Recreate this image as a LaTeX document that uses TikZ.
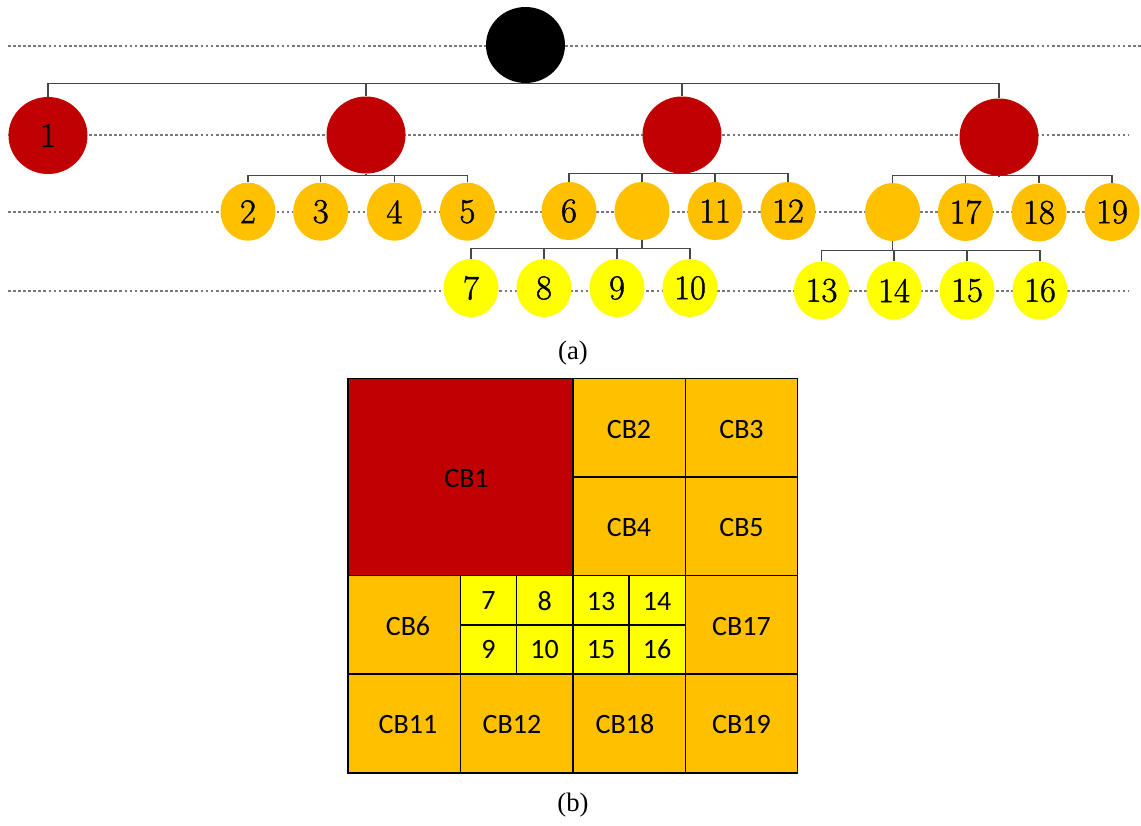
\documentclass[tikz,border=0pt]{standalone}
\usepackage{fontspec}
\newfontfamily\cbfont{Carlito}
\newfontfamily\capfont{Liberation Serif}
\newfontfamily\numfont[FakeBold=1.2]{Latin Modern Roman}
\usetikzlibrary{shapes.geometric,backgrounds}
\definecolor{cbred}{RGB}{192,0,0}
\definecolor{cborange}{RGB}{255,192,0}
\definecolor{cbyellow}{RGB}{255,255,0}
\definecolor{dashgray}{RGB}{120,120,120}
\definecolor{conngray}{RGB}{70,70,70}
\begin{document}
\begin{tikzpicture}[x=0.75pt,y=-0.75pt,
  tn/.style={ellipse, inner sep=0pt, draw=none, font=\numfont\fontsize{26}{30}\selectfont},
  rootnode/.style={tn, fill=black, minimum width=59.25pt, minimum height=57pt},
  rednode/.style={tn, fill=cbred, minimum width=59.25pt, minimum height=57.75pt},
  orangenode/.style={tn, fill=cborange, minimum width=41.25pt, minimum height=43.5pt},
  yellownode/.style={tn, fill=cbyellow, minimum width=41.25pt, minimum height=43.5pt},
  level/.style={draw=dashgray, line width=0.95pt, dash pattern=on 2.1pt off 1.7pt},
  conn/.style={draw=conngray, line width=0.85pt},
  cell/.style={draw=black, line width=1.2pt},
  cbtext/.style={font=\cbfont\fontsize{21}{25}\selectfont, inner sep=0pt},
  captext/.style={font=\capfont\fontsize{20}{24}\selectfont, inner sep=0pt}]
\useasboundingbox (0,0) rectangle (1141,825);

% ---- tree nodes ----
\node[rootnode] (root) at (525.5,45) {};
\node[rednode] (n1) at (48,135.5) {1};
\node[rednode] (rA) at (366,135) {};
\node[rednode] (rB) at (682,135) {};
\node[rednode] (rC) at (999,137) {};

\node[orangenode] (n2) at (248,211.7) {2};
\node[orangenode] (n3) at (320.7,211.7) {3};
\node[orangenode] (n4) at (394.4,211.7) {4};
\node[orangenode] (n5) at (467.4,211.7) {5};

\node[orangenode] (n6) at (569,211) {6};
\node[orangenode] (oB) at (642,211) {};
\node[orangenode] (n11) at (715,211) {11};
\node[orangenode] (n12) at (788,211) {12};

\node[orangenode] (oC) at (892.6,212) {};
\node[orangenode] (n17) at (965.5,212) {17};
\node[orangenode] (n18) at (1039,212.5) {18};
\node[orangenode] (n19) at (1112,212) {19};

\node[yellownode] (n7) at (471,288) {7};
\node[yellownode] (n8) at (544,288) {8};
\node[yellownode] (n9) at (617,288) {9};
\node[yellownode] (n10) at (690,288) {10};

\node[yellownode] (n13) at (821.5,290.5) {13};
\node[yellownode] (n14) at (894,290.5) {14};
\node[yellownode] (n15) at (967,290.5) {15};
\node[yellownode] (n16) at (1040,290.5) {16};

% bar levels
\coordinate (b0) at (525.5,83.3);
\coordinate (bA) at (366,175.3);
\coordinate (bB) at (682,173.3);
\coordinate (bC) at (999,175.5);
\coordinate (bD) at (642,248.3);
\coordinate (bE) at (892.6,250.7);

% dashed level line ends
\coordinate (l0a) at (8,46);   \coordinate (l0b) at (1141,46);
\coordinate (l1a) at (8,135);  \coordinate (l1b) at (1128,135);
\coordinate (l2a) at (8,212);  \coordinate (l2b) at (1137,212);
\coordinate (l3a) at (8,291);  \coordinate (l3b) at (1128,291);

\begin{scope}[on background layer]
  \draw[level] (l0a) -- (l0b);
  \draw[level] (l1a) -- (l1b);
  \draw[level] (l2a) -- (l2b);
  \draw[level] (l3a) -- (l3b);
  \foreach \c in {n1,rA,rB,rC}
    \draw[conn] (root) |- (\c.north |- b0) -- (\c.north);
  \foreach \c in {n2,n3,n4,n5}
    \draw[conn] (rA) |- (\c.north |- bA) -- (\c.north);
  \foreach \c in {n6,oB,n11,n12}
    \draw[conn] (rB) |- (\c.north |- bB) -- (\c.north);
  \foreach \c in {oC,n17,n18,n19}
    \draw[conn] (rC) |- (\c.north |- bC) -- (\c.north);
  \foreach \c in {n7,n8,n9,n10}
    \draw[conn] (oB) |- (\c.north |- bD) -- (\c.north);
  \foreach \c in {n13,n14,n15,n16}
    \draw[conn] (oC) |- (\c.north |- bE) -- (\c.north);
\end{scope}

\node[captext] (capa) at (573,353) {(a)};

% ---- grid (b) ----
\fill[cbred] (348,378.3) rectangle (572.7,575.3);
\fill[cborange] (572.7,378.3) rectangle (797.5,575.3);
\fill[cborange] (348,575.3) rectangle (460.3,673.7);
\fill[cborange] (685.3,575.3) rectangle (797.5,673.7);
\fill[cborange] (348,673.7) rectangle (797.5,772.7);
\fill[cbyellow] (460.3,575.3) rectangle (685.3,673.7);

\draw[cell] (348,378.3) rectangle (797.5,772.7);
\draw[cell] (572.7,378.3) -- (572.7,772.7);
\draw[cell] (685.3,378.3) -- (685.3,772.7);
\draw[cell] (460.3,575.3) -- (460.3,772.7);
\draw[cell] (572.7,476.7) -- (797.5,476.7);
\draw[cell] (348,575.3) -- (797.5,575.3);
\draw[cell] (348,673.7) -- (797.5,673.7);
\draw[cell] (460.3,625) -- (685.3,625);
\draw[cell] (516.5,575.3) -- (516.5,673.7);
\draw[cell] (629,575.3) -- (629,673.7);

\node[cbtext] (cb1) at (466.5,479) {CB1};
\node[cbtext] (cb2) at (629,430) {CB2};
\node[cbtext] (cb3) at (741.5,430) {CB3};
\node[cbtext] (cb4) at (629,527) {CB4};
\node[cbtext] (cb5) at (741.5,527) {CB5};
\node[cbtext] (cb6) at (408,626) {CB6};
\node[cbtext] (c7) at (488.4,601) {7};
\node[cbtext] (c8) at (544.6,601) {8};
\node[cbtext] (c13) at (601,601) {13};
\node[cbtext] (c14) at (657,601) {14};
\node[cbtext] (c9) at (488.4,649.5) {9};
\node[cbtext] (c10) at (544.6,649.5) {10};
\node[cbtext] (c15) at (601,649.5) {15};
\node[cbtext] (c16) at (657,649.5) {16};
\node[cbtext] (cb17) at (741.5,626) {CB17};
\node[cbtext] (cb11) at (408,724) {CB11};
\node[cbtext] (cb12) at (512,724) {CB12};
\node[cbtext] (cb18) at (625,724) {CB18};
\node[cbtext] (cb19) at (741.5,724) {CB19};

\node[captext] (capb) at (573,805) {(b)};
\end{tikzpicture}
\end{document}
